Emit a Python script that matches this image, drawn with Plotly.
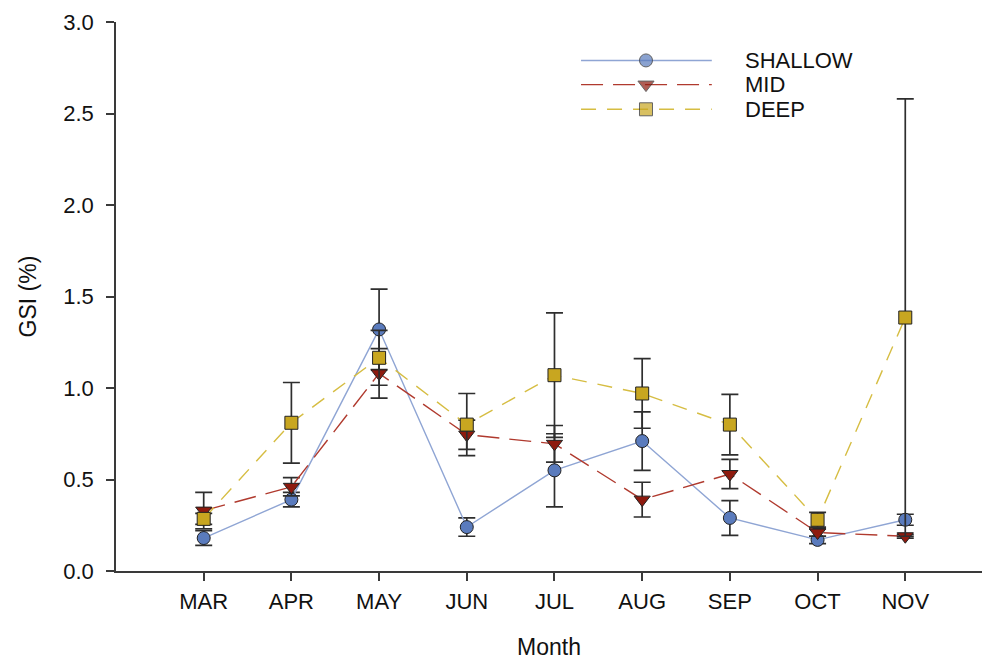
import plotly.graph_objects as go

months = ["MAR", "APR", "MAY", "JUN", "JUL", "AUG", "SEP", "OCT", "NOV"]
month_pos = [1, 2, 3, 4, 5, 6, 7, 8, 9]

shallow = [0.18, 0.39, 1.32, 0.24, 0.55, 0.71, 0.29, 0.17, 0.28]
shallow_err = [0.04, 0.04, 0.22, 0.05, 0.20, 0.16, 0.095, 0.02, 0.03]

mid = [0.33, 0.46, 1.08, 0.745, 0.695, 0.39, 0.53, 0.21, 0.19]
mid_err = [0.10, 0.05, 0.135, 0.08, 0.10, 0.095, 0.08, 0.02, 0.01]

deep = [0.285, 0.81, 1.165, 0.80, 1.07, 0.97, 0.80, 0.28, 1.385]
deep_err = [0.03, 0.22, 0.15, 0.17, 0.34, 0.19, 0.165, 0.04, 1.195]

series_names = ["SHALLOW", "MID", "DEEP"]

FONT = "Liberation Sans, Arial, sans-serif"
ERR = dict(type="data", visible=True, color="#2e2e2e", thickness=1.7, width=8.5)

styles = [
    dict(line=dict(color="#8fa5d4", width=1.4),
         marker=dict(symbol="circle", size=13, color="#5a7bbd", line=dict(color="#222222", width=1))),
    dict(line=dict(color="#b03a2e", width=1.4, dash="22px,10px"),
         marker=dict(symbol="triangle-down", size=14, color="#8e1a0e", line=dict(color="#222222", width=1))),
    dict(line=dict(color="#d6bd42", width=1.4, dash="15px,11px"),
         marker=dict(symbol="square", size=13, color="#c8a620", line=dict(color="#222222", width=1))),
]

fig = go.Figure()
for name, vals, errs, st in zip(series_names, [shallow, mid, deep], [shallow_err, mid_err, deep_err], styles):
    fig.add_trace(go.Scatter(
        x=month_pos, y=vals, mode="lines+markers", name=name,
        line=st["line"], marker=st["marker"],
        error_y=dict(array=errs, **ERR), showlegend=False,
    ))

# custom legend (long sample lines like the original)
leg_y = [0.930, 0.886, 0.841]
for name, st, yy in zip(series_names, styles, leg_y):
    fig.add_trace(go.Scatter(
        x=[0.537, 0.612, 0.688], y=[yy, yy, yy], xaxis="x2", yaxis="y2",
        mode="lines+markers", line=st["line"],
        marker=dict(symbol=st["marker"]["symbol"], size=[0, st["marker"]["size"], 0],
                    color=st["marker"]["color"], line=st["marker"]["line"]),
        showlegend=False, hoverinfo="skip",
    ))
    fig.add_annotation(x=0.724, y=yy, xref="paper", yref="paper", text=name,
                       showarrow=False, xanchor="left", yanchor="middle",
                       font=dict(family=FONT, size=22, color="#111111"))

fig.update_layout(
    width=982, height=660,
    margin=dict(l=116, r=0, t=22, b=82),
    paper_bgcolor="white", plot_bgcolor="white",
    font=dict(family=FONT, size=22, color="#111111"),
    xaxis=dict(
        range=[0, 9.875], tickmode="array", tickvals=month_pos, ticktext=months,
        showline=True, linecolor="#3a3a3a", linewidth=1.7,
        ticks="outside", ticklen=8, tickwidth=1.5, tickcolor="#3a3a3a",
        showgrid=False, zeroline=False, ticklabelstandoff=2,
        title=dict(text="Month", font=dict(family=FONT, size=23), standoff=30),
        tickfont=dict(family=FONT, size=22),
    ),
    yaxis=dict(
        range=[0, 3], dtick=0.5, tick0=0, tickformat=".1f",
        showline=True, linecolor="#3a3a3a", linewidth=1.7,
        ticks="outside", ticklen=8, tickwidth=1.5, tickcolor="#3a3a3a",
        showgrid=False, zeroline=False, ticklabelstandoff=8,
        title=dict(text="GSI (%)", font=dict(family=FONT, size=23), standoff=20),
        tickfont=dict(family=FONT, size=22),
    ),
    xaxis2=dict(range=[0, 1], overlaying="x", visible=False, domain=[0, 1]),
    yaxis2=dict(range=[0, 1], overlaying="y", visible=False),
)

fig.write_html(
    "out.html",
    config={"displayModeBar": False},
    post_script="document.body.style.margin='0';document.body.style.overflow='hidden';",
)
